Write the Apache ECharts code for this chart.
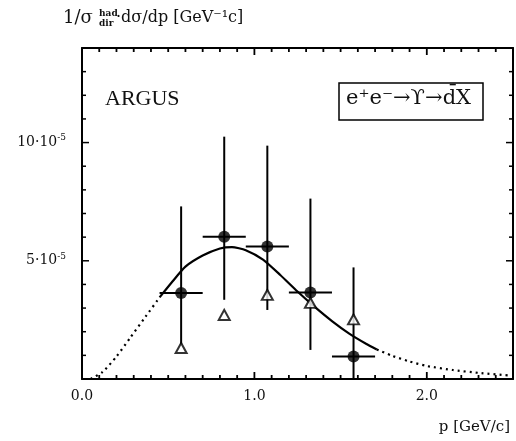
<!DOCTYPE html>
<html>
<head>
<meta charset="utf-8">
<script src="https://cdn.jsdelivr.net/npm/echarts@6/dist/echarts.min.js"></script>
<style>html,body{margin:0;padding:0;background:#fff}#c{width:516px;height:441px}</style>
</head>
<body>
<div id="c"></div>
<script>
// values in units of 1e-5
const pX      = [0.575, 0.825, 1.075, 1.325, 1.575];
const pY      = [3.64, 6.02, 5.60, 3.66, 0.95];
const pLo     = [1.45, 3.35, 2.92, 1.23, 0.00];
const pHi     = [7.30, 10.25, 9.87, 7.63, 4.72];
const pHalfW  = [0.125, 0.125, 0.125, 0.125, 0.125];
const triY    = [1.31, 2.71, 3.56, 3.22, 2.52];
const curveX  = [0.05, 0.12, 0.20, 0.28, 0.36, 0.45, 0.52, 0.60, 0.70, 0.80, 0.87, 0.95, 1.05, 1.15, 1.25, 1.35, 1.45, 1.55, 1.65, 1.71, 1.80, 1.90, 2.00, 2.15, 2.30, 2.48];
const curveY  = [0.00, 0.30, 0.95, 1.75, 2.55, 3.45, 4.08, 4.75, 5.22, 5.52, 5.58, 5.45, 5.05, 4.40, 3.70, 3.05, 2.45, 1.92, 1.48, 1.25, 0.98, 0.74, 0.55, 0.38, 0.26, 0.15];
const solidFrom = 0.45, solidTo = 1.71;
const xMajor = [0, 1, 2];
const xTickLabels = ['0.0', '1.0', '2.0'];
const xMinor = [0.1, 0.2, 0.3, 0.4, 0.5, 0.6, 0.7, 0.8, 0.9, 1.1, 1.2, 1.3, 1.4, 1.5, 1.6, 1.7, 1.8, 1.9, 2.1, 2.2, 2.3, 2.4];
const yMajor = [5, 10];
const yTickLabels = ['5', '10'];
const yMinor = [1, 2, 3, 4, 6, 7, 8, 9, 11, 12, 13];
const xMin = 0, xMax = 2.5, yMin = 0, yMax = 14;

const curve = curveX.map((x, i) => [x, curveY[i]]);
const dotL = curve.filter(d => d[0] <= solidFrom);
const solid = curve.filter(d => d[0] >= solidFrom && d[0] <= solidTo);
const dotR = curve.filter(d => d[0] >= solidTo);

const chart = echarts.init(document.getElementById('c'));
const F = 'DejaVu Serif';
const line = {show: true, onZero: false, lineStyle: {color: '#000', width: 2}};
const noTick = {show: false};

function xTickSeries(values, len) {
  return {type: 'custom', silent: true, z: 10, zlevel: 1,
    data: values.map(v => [v]), encode: {x: 0},
    renderItem: (params, api) => {
      const st = {stroke: '#000', lineWidth: 1.8};
      const p = api.coord([api.value(0), yMin]), q = api.coord([api.value(0), yMax]);
      return {type: 'group', children: [
        {type: 'line', shape: {x1: p[0], y1: p[1], x2: p[0], y2: p[1] - len}, style: st},
        {type: 'line', shape: {x1: q[0], y1: q[1], x2: q[0], y2: q[1] + len}, style: st}]};
    }};
}
function yTickSeries(values, len) {
  return {type: 'custom', silent: true, z: 2,
    data: values.map(v => [xMin, v]), encode: {x: 0, y: 1},
    renderItem: (params, api) => {
      const st = {stroke: '#000', lineWidth: 1.5};
      const p = api.coord([xMin, api.value(1)]), q = api.coord([xMax, api.value(1)]);
      return {type: 'group', children: [
        {type: 'line', shape: {x1: p[0], y1: p[1], x2: p[0] + len, y2: p[1]}, style: st},
        {type: 'line', shape: {x1: q[0], y1: q[1], x2: q[0] - len, y2: q[1]}, style: st}]};
    }};
}

chart.setOption({
  animation: false,
  backgroundColor: '#fff',
  grid: {left: 82, right: 3, top: 48, bottom: 62},
  xAxis: [
    {type: 'value', position: 'bottom', min: xMin, max: xMax, interval: 1, axisLine: line, axisTick: noTick, splitLine: {show: false},
      axisLabel: {show: true, margin: 10, fontFamily: F, fontSize: 14, color: '#111',
        formatter: v => { const k = xMajor.indexOf(v); return k >= 0 ? xTickLabels[k] : ''; }}},
    {type: 'value', position: 'top', min: xMin, max: xMax, interval: 1, axisLine: line, axisTick: noTick, splitLine: {show: false}, axisLabel: {show: false}}
  ],
  yAxis: [
    {type: 'value', position: 'left', min: yMin, max: yMax, interval: 5, axisLine: line, axisTick: noTick, splitLine: {show: false},
      axisLabel: {show: true, margin: 16, fontFamily: F, color: '#111',
        formatter: v => { const k = yMajor.indexOf(v); return k >= 0 ? '{a|' + yTickLabels[k] + '·10}{s|-5}' : ''; },
        rich: {a: {fontFamily: F, fontSize: 14, color: '#111'}, s: {fontFamily: F, fontSize: 9, color: '#111', padding: [0, 0, 9, 0]}}}},
    {type: 'value', position: 'right', min: yMin, max: yMax, interval: 5, axisLine: line, axisTick: noTick, splitLine: {show: false}, axisLabel: {show: false}}
  ],
  graphic: [
    {type: 'text', left: 63, top: 9, style: {text: '1/σ', font: '18px "DejaVu Serif"', fill: '#111'}},
    {type: 'text', left: 99, top: 9, style: {text: 'had', font: 'bold 9px "DejaVu Serif"', fill: '#111'}},
    {type: 'text', left: 99, top: 19, style: {text: 'dir', font: 'bold 9px "DejaVu Serif"', fill: '#111'}},
    {type: 'text', left: 116, top: 10, style: {text: '·dσ/dp [GeV⁻¹c]', font: '16px "DejaVu Serif"', fill: '#111'}},
    {type: 'text', left: 105, top: 88, style: {text: 'ARGUS', font: '22px "Liberation Serif"', fill: '#111'}},
    {type: 'rect', shape: {x: 339, y: 83, width: 144, height: 37}, style: {fill: 'none', stroke: '#000', lineWidth: 1.5}},
    {type: 'text', left: 346, top: 88, style: {text: 'e⁺e⁻→ϒ→d̄X', font: '21px "DejaVu Serif"', fill: '#111'}},
    {type: 'text', right: 6, top: 420, style: {text: 'p [GeV/c]', font: '15px "DejaVu Serif"', fill: '#111'}}
  ],
  series: [
    {type: 'line', data: dotL, smooth: 0.2, symbol: 'none', lineStyle: {color: '#000', width: 2.2, type: [2, 4]}},
    {type: 'line', data: solid, smooth: 0.2, symbol: 'none', lineStyle: {color: '#000', width: 2.2}},
    {type: 'line', data: dotR, smooth: 0.2, symbol: 'none', lineStyle: {color: '#000', width: 2.2, type: [2, 4]}},
    xTickSeries(xMinor, 4),
    xTickSeries(xMajor, 7),
    yTickSeries(yMinor, 4),
    yTickSeries(yMajor, 7),
    {type: 'custom', data: pX.map((x, i) => [x, pY[i], pLo[i], pHi[i], pHalfW[i]]),
      renderItem: (params, api) => {
        const x = api.value(0), y = api.value(1), lo = api.value(2), hi = api.value(3), hw = api.value(4);
        const a = api.coord([x, lo]), b = api.coord([x, hi]);
        const l = api.coord([x - hw, y]), r = api.coord([x + hw, y]);
        const st = {stroke: '#000', lineWidth: 2};
        return {type: 'group', children: [
          {type: 'line', shape: {x1: a[0], y1: a[1], x2: b[0], y2: b[1]}, style: st},
          {type: 'line', shape: {x1: l[0], y1: l[1], x2: r[0], y2: r[1]}, style: st}
        ]};
      }, z: 3},
    {type: 'scatter', data: pX.map((x, i) => [x, pY[i]]), symbol: 'circle', symbolSize: 12, itemStyle: {color: '#000'}, z: 4},
    {type: 'scatter', data: pX.map((x, i) => [x, triY[i]]), symbol: 'triangle', symbolSize: [11, 10], itemStyle: {color: '#fff', borderColor: '#000', borderWidth: 2}, z: 5}
  ]
});
</script>
</body>
</html>
